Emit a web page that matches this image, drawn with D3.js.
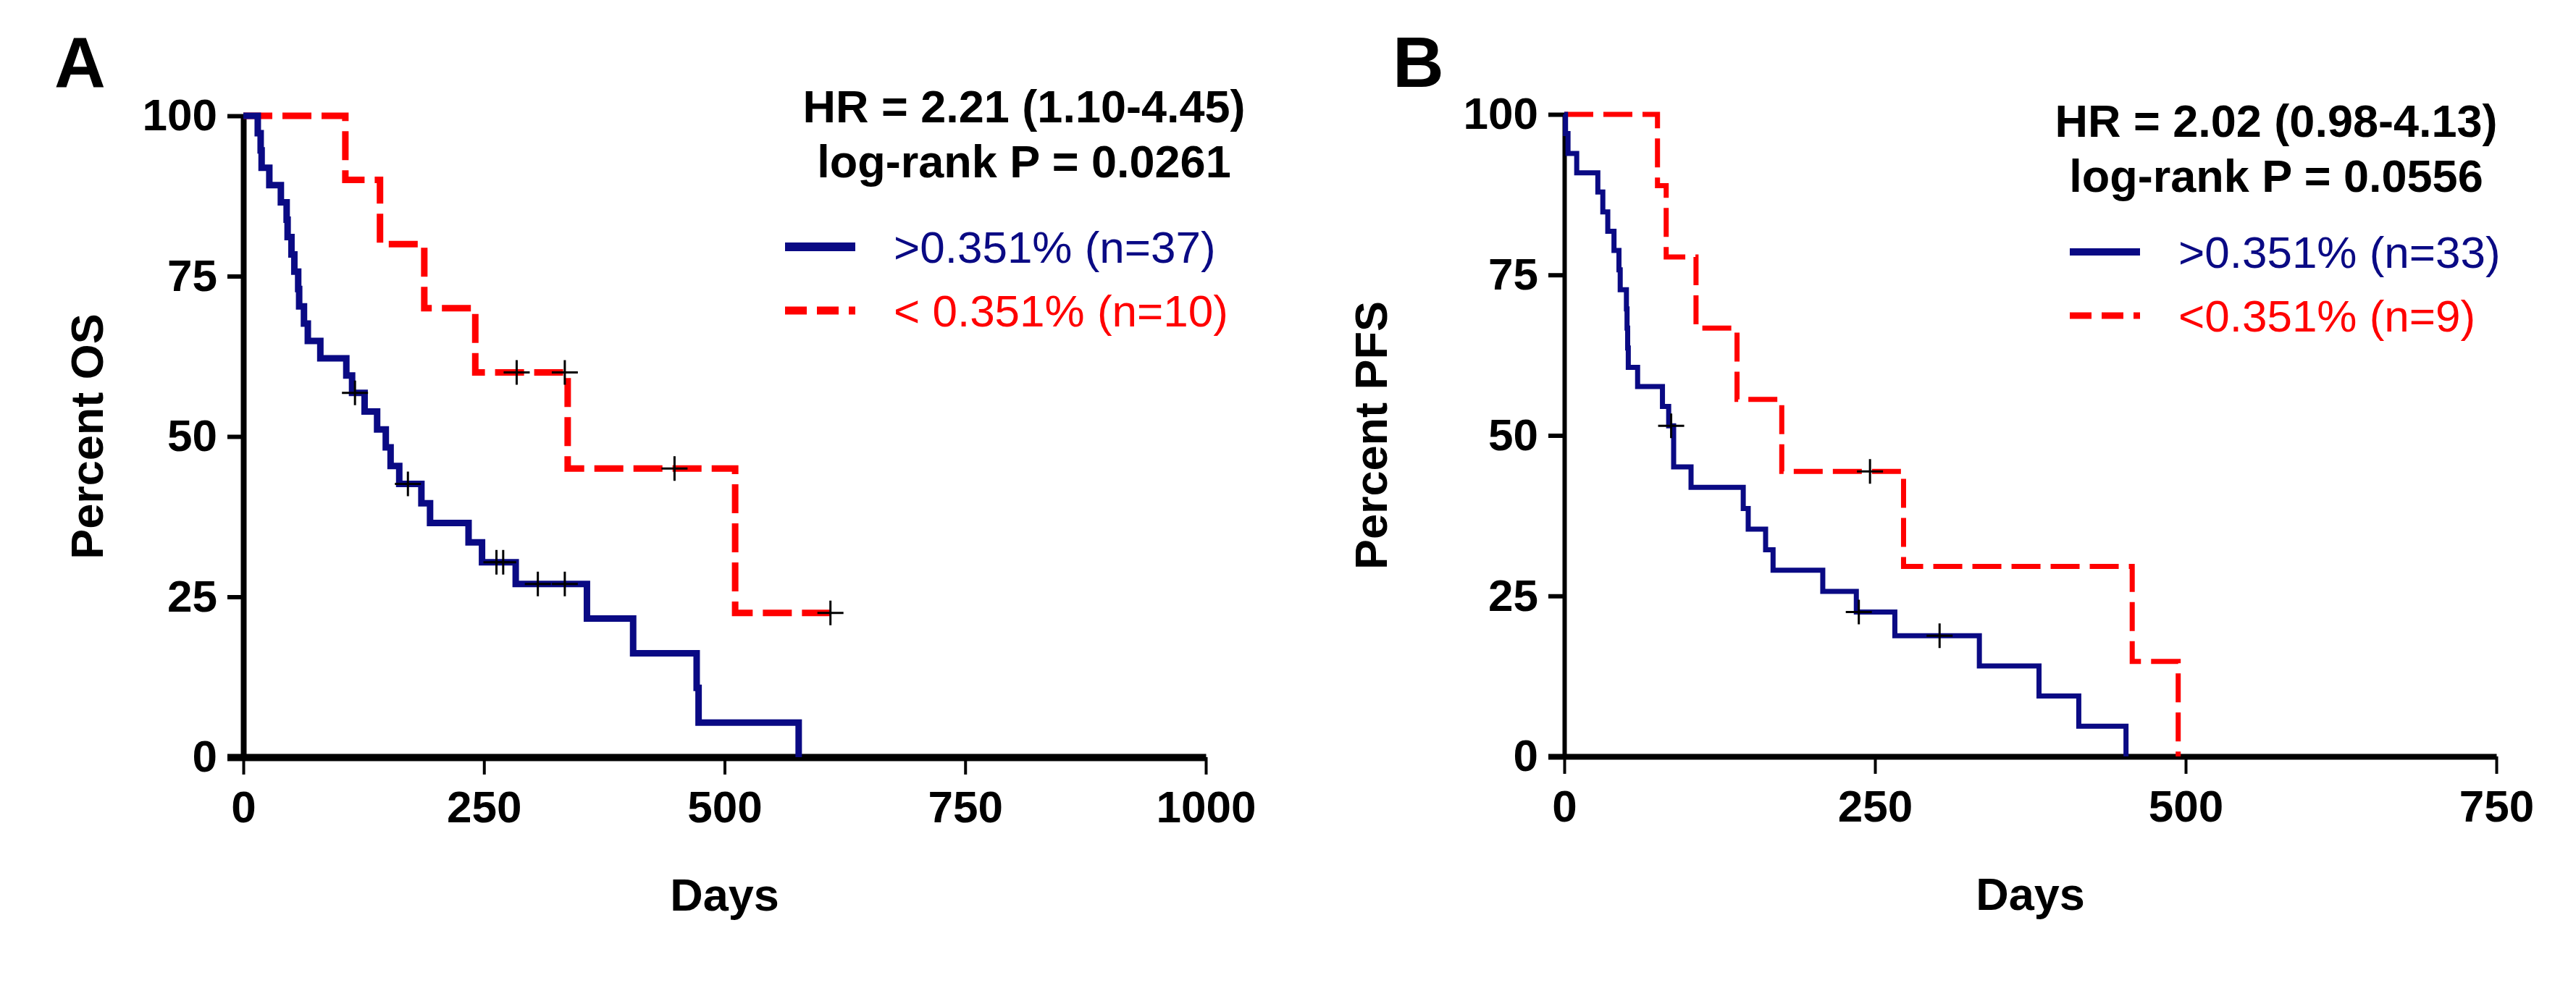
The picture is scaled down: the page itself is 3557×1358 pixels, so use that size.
<!DOCTYPE html>
<html>
<head>
<meta charset="utf-8">
<script src="https://cdn.jsdelivr.net/npm/d3@7"></script>
<style>
  body { margin: 0; background: #fff; }
  svg { font-family: "Liberation Sans", Arial, sans-serif; }
  .tick text { font-size: 62px; font-weight: bold; fill: #000; }
</style>
</head>
<body>
<div id="chart"></div>
<script>
/*
* Kaplan-Meier curves, OS and PFS
*/

const BLUE = '#0a0a84';
const RED = '#ff0000';

// panel A: overall survival, [day, percent] after each drop
let osHigh = [[0, 100], [15, 97.3], [18, 94.6], [19, 91.9], [27, 89.2], [39, 86.5], [45, 83.8], [46, 81.1],
  [50, 78.4], [53, 75.7], [57, 73.0], [58, 70.3], [63, 67.6], [67, 64.9], [80, 62.2], [107, 59.5],
  [113, 56.8], [126, 53.9], [139, 51.1], [148, 48.3], [153, 45.4], [162, 42.6], [185, 39.6],
  [194, 36.5], [234, 33.5], [248, 30.4], [283, 27.0], [357, 21.6], [405, 16.2], [471, 10.8],
  [473, 5.4], [577, 0]];
let osHighCensor = [[116, 56.8], [171, 42.6], [263, 30.4], [270, 30.4], [306, 27.0], [334, 27.0]];
let osLow = [[0, 100], [106, 90], [142, 80], [188, 70], [241, 60], [337, 45], [511, 22.5], [610, 22.5]];
let osLowCensor = [[284, 60], [334, 60], [448, 45], [610, 22.5]];

// panel B: progression-free survival
let pfsHigh = [[0, 100], [1, 97.0], [3, 93.9], [10, 90.9], [27, 87.9], [31, 84.8], [35, 81.8], [40, 78.8],
  [44, 75.8], [45, 72.7], [50, 69.7], [50.5, 66.7], [51, 63.6], [51.5, 60.6], [59, 57.6], [79, 54.5],
  [84, 51.5], [88, 45.1], [102, 41.9], [144, 38.6], [148, 35.4], [162, 32.2], [168, 29.0],
  [208, 25.7], [235, 22.5], [266, 18.8], [334, 14.1], [382, 9.4], [414, 4.7], [452, 0]];
let pfsHighCensor = [[86, 51.5], [237, 22.5], [302, 18.8]];
let pfsLow = [[0, 100], [75, 88.9], [82, 77.8], [106, 66.7], [139, 55.6], [175, 44.4], [273, 29.6],
  [457, 14.8], [494, 0]];
let pfsLowCensor = [[246, 44.4]];

let yTicks = [0, 25, 50, 75, 100];
let xTicksA = [0, 250, 500, 750, 1000];
let xTicksB = [0, 250, 500, 750];

let svg = d3.select('#chart').append('svg')
  .attr('width', 3557)
  .attr('height', 1358);

let panels = [
  {
    letter: 'A', letterX: 75, yTitle: 'Percent OS', titleX: 142,
    xr: [336, 1665], yr: [1046, 160], xMax: 1000, xTicks: xTicksA,
    stats: ['HR = 2.21 (1.10-4.45)', 'log-rank P = 0.0261'], statX: 1414, statY: 169,
    legX: 1084, legY: 341, legLabels: ['>0.351% (n=37)', '< 0.351% (n=10)'], lw: 9, axisW: 8,
    high: osHigh, highCensor: osHighCensor, low: osLow, lowCensor: osLowCensor
  },
  {
    letter: 'B', letterX: 1923, yTitle: 'Percent PFS', titleX: 1915,
    xr: [2160, 3447], yr: [1045, 158], xMax: 750, xTicks: xTicksB,
    stats: ['HR = 2.02 (0.98-4.13)', 'log-rank P = 0.0556'], statX: 3143, statY: 189,
    legX: 2858, legY: 348, legLabels: ['>0.351% (n=33)', '<0.351% (n=9)'], lw: 7, axisW: 6,
    high: pfsHigh, highCensor: pfsHighCensor, low: pfsLow, lowCensor: pfsLowCensor
  }
];

panels.forEach(drawPanel);

function drawPanel(p) {
  let x = d3.scaleLinear().domain([0, p.xMax]).range(p.xr);
  let y = d3.scaleLinear().domain([0, 100]).range(p.yr);
  let g = svg.append('g');

  // axes
  let xAxis = g.append('g')
    .attr('transform', 'translate(0,' + p.yr[0] + ')')
    .call(d3.axisBottom(x).tickValues(p.xTicks).tickFormat(d3.format('d'))
      .tickSize(24).tickSizeOuter(0).tickPadding(22));
  xAxis.select('.domain').attr('stroke-width', p.axisW + 2);
  xAxis.selectAll('.tick line').attr('stroke-width', 4);

  let yAxis = g.append('g')
    .attr('transform', 'translate(' + p.xr[0] + ',0)')
    .call(d3.axisLeft(y).tickValues(yTicks).tickSize(22).tickSizeOuter(0).tickPadding(14));
  yAxis.select('.domain').attr('stroke-width', p.axisW);
  yAxis.selectAll('.tick line').attr('stroke-width', function (d) { return d === 0 ? p.axisW + 2 : 6; });

  // curves
  let line = d3.line()
    .x(function (d) { return x(d[0]); })
    .y(function (d) { return y(d[1]); })
    .curve(d3.curveStepAfter);

  g.append('path')
    .datum(p.low)
    .attr('d', line)
    .attr('fill', 'none')
    .attr('stroke', RED)
    .attr('stroke-width', p.lw)
    .attr('stroke-dasharray', '40,14');

  g.append('path')
    .datum(p.high)
    .attr('d', line)
    .attr('fill', 'none')
    .attr('stroke', BLUE)
    .attr('stroke-width', p.lw);

  // censor marks
  let censors = p.highCensor.concat(p.lowCensor);
  g.selectAll('.censor')
    .data(censors)
    .enter().append('path')
    .attr('d', function (d) {
      let cx = x(d[0]), cy = y(d[1]);
      return 'M' + (cx - 18) + ',' + cy + 'h36M' + cx + ',' + (cy - 17) + 'v34';
    })
    .attr('stroke', '#000')
    .attr('stroke-width', 3);

  // titles
  g.append('text')
    .attr('x', p.letterX)
    .attr('y', 120)
    .style('font-size', '98px')
    .style('font-weight', 'bold')
    .text(p.letter);

  g.append('text')
    .attr('transform', 'translate(' + p.titleX + ',' + ((p.yr[0] + p.yr[1]) / 2) + ') rotate(-90)')
    .attr('text-anchor', 'middle')
    .style('font-size', '63px')
    .style('font-weight', 'bold')
    .text(p.yTitle);

  g.append('text')
    .attr('x', (p.xr[0] + p.xr[1]) / 2)
    .attr('y', p.yr[0] + 212)
    .attr('text-anchor', 'middle')
    .style('font-size', '63px')
    .style('font-weight', 'bold')
    .text('Days');

  p.stats.forEach(function (s, i) {
    g.append('text')
      .attr('x', p.statX)
      .attr('y', p.statY + i * 76)
      .attr('text-anchor', 'middle')
      .style('font-size', '63px')
      .style('font-weight', 'bold')
      .text(s);
  });

  // legend
  let legColors = [BLUE, RED];
  p.legLabels.forEach(function (s, i) {
    let ly = p.legY + i * 88;
    g.append('line')
      .attr('x1', p.legX)
      .attr('x2', p.legX + 97)
      .attr('y1', ly)
      .attr('y2', ly)
      .attr('stroke', legColors[i])
      .attr('stroke-width', i === 0 ? p.lw + 3 : p.lw + 2)
      .attr('stroke-dasharray', i === 0 ? null : '30,14,30,14,12');
    g.append('text')
      .attr('x', p.legX + 150)
      .attr('y', ly + 22)
      .style('font-size', '62px')
      .style('fill', legColors[i])
      .text(s);
  });
}
</script>
</body>
</html>
